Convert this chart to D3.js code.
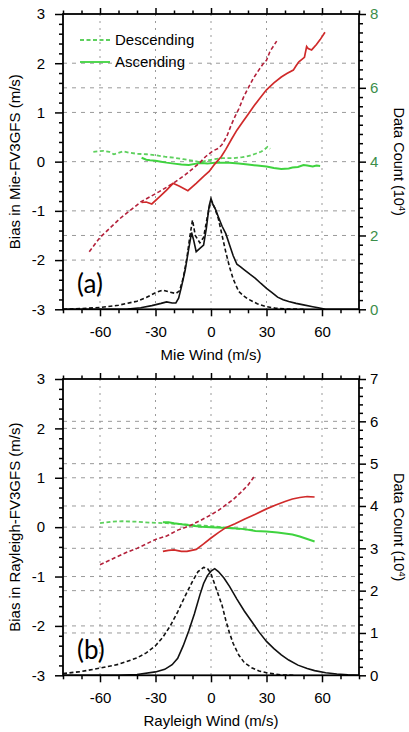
<!DOCTYPE html>
<html lang="en">
<head>
<meta charset="UTF-8">
<title>Bias vs wind speed</title>
<script src="https://d3js.org/d3.v7.min.js"></script>
<style>
    body { margin: 0; background: #fff; font-family: "Liberation Sans", Arial, sans-serif; }
    .tick text { font-size: 15px; font-family: "Liberation Sans", Arial, sans-serif; }
    .axis-title { font-size: 15px; }
</style>
</head>
<body>
<div id="chart"></div>
<script>
// wind (m/s) vs bias (m/s) -- panel (a), Mie
const mieDescBias = [[-65.8,-1.83],[-60,-1.54],[-49,-1.15],[-38,-0.82],[-28,-0.61],[-20,-0.43],[-14,-0.27],[-9.5,-0.13],[-6,-0.02],[-3,0.1],[1,0.22],[4,0.27],[6,0.35],[8.5,0.51],[11,0.75],[13,0.92],[15,1.07],[17.5,1.3],[20,1.49],[23,1.7],[26,1.87],[28,1.98],[30,2.06],[32,2.25],[34,2.36],[35.5,2.45]];
const mieAscBias = [[-37.5,-0.83],[-35,-0.82],[-32,-0.86],[-28,-0.72],[-24,-0.58],[-20.5,-0.44],[-17,-0.5],[-12.5,-0.59],[-8,-0.44],[-4,-0.3],[-1,-0.2],[2,-0.05],[5.5,0.1],[8,0.25],[11,0.45],[14,0.64],[17,0.8],[20,0.96],[23,1.12],[26,1.27],[30,1.46],[34,1.6],[38,1.72],[41,1.79],[44.5,1.86],[46,1.95],[47.5,2.03],[50.5,2.12],[51.7,2.34],[52.5,2.3],[54.4,2.27],[57,2.38],[59,2.48],[61.6,2.63]];
const mieDescGreen = [[-63.6,0.2],[-58,0.22],[-55,0.2],[-52.5,0.15],[-50,0.18],[-47.5,0.21],[-44,0.18],[-40,0.16],[-35,0.15],[-30,0.13],[-25,0.1],[-20,0.08],[-15,0.05],[-10,0.02],[-6,-0.01],[-2,0.02],[2,0.05],[6,0.07],[12,0.07],[17,0.09],[21,0.12],[24,0.16],[27,0.2],[29,0.25],[30.5,0.3],[32,0.26]];
const mieAscGreen = [[-37.5,0.08],[-35,0.04],[-33,0.03],[-30,0.02],[-27,0],[-24,-0.02],[-20,-0.04],[-16,-0.06],[-12,-0.07],[-8,-0.04],[-5,-0.03],[-2,-0.04],[2,-0.02],[6,-0.02],[10,-0.02],[15,-0.04],[20,-0.06],[25,-0.08],[30,-0.1],[34,-0.13],[38,-0.15],[42,-0.14],[44,-0.12],[47,-0.11],[50,-0.07],[52,-0.08],[55,-0.1],[57,-0.08],[59,-0.09]];
// data count (10^4)
const mieDescCount = [[-80,0],[-70,0.02],[-60,0.05],[-50,0.11],[-40,0.22],[-35,0.32],[-30,0.45],[-26,0.52],[-22,0.46],[-19,0.43],[-17,0.5],[-15,0.85],[-13,1.4],[-11.5,1.95],[-10,2.42],[-8.5,2.0],[-6,1.8],[-4,1.95],[-2,2.5],[0,2.95],[2,2.75],[4,2.45],[6,2.0],[8,1.55],[10,1.15],[12,0.82],[15,0.48],[18,0.35],[20,0.28],[25,0.15],[30,0.07],[35,0.03],[40,0.01],[50,0]];
const mieAscCount = [[-80,0],[-60,0],[-45,0.01],[-38,0.04],[-32,0.1],[-27,0.16],[-24,0.2],[-21,0.17],[-19,0.17],[-17.5,0.3],[-16,0.6],[-14,1.05],[-12,1.65],[-10.5,2.08],[-9.5,1.9],[-8,1.56],[-6,1.65],[-4,1.74],[-2.5,2.2],[-1,2.8],[0,3.0],[1,2.85],[2.5,2.7],[4,2.5],[6,2.25],[8,2.05],[10,1.75],[12,1.45],[14,1.22],[16,1.15],[18,1.07],[21,0.95],[24,0.84],[27,0.7],[30,0.57],[33,0.45],[36,0.33],[39,0.26],[42,0.21],[46,0.16],[50,0.12],[55,0.07],[58,0.04],[62,0],[80,0]];

// panel (b), Rayleigh
const rayDescBias = [[-60,-0.76],[-52,-0.62],[-45,-0.5],[-40,-0.43],[-35,-0.34],[-30,-0.25],[-24,-0.18],[-18,-0.06],[-12,0.02],[-6,0.13],[0,0.25],[4,0.34],[8,0.45],[12,0.56],[16,0.7],[20,0.85],[23.5,1.03]];
const rayAscBias = [[-26,-0.49],[-23,-0.47],[-20,-0.46],[-16,-0.49],[-13,-0.49],[-8,-0.45],[-4,-0.34],[0,-0.22],[4,-0.11],[8,-0.01],[13,0.07],[18,0.16],[24,0.26],[30,0.37],[35,0.45],[40,0.52],[44,0.57],[48,0.6],[52,0.62],[56,0.61]];
const rayDescGreen = [[-60,0.08],[-54,0.11],[-48,0.12],[-40,0.11],[-32,0.09],[-24,0.08],[-16,0.06],[-8,0.04],[0,0.02],[8,-0.01],[14,-0.03],[20,-0.05],[23,-0.06]];
const rayAscGreen = [[-26,0.1],[-23,0.1],[-20,0.08],[-16,0.06],[-10,0.03],[-5,0.01],[0,0],[6,-0.01],[12,-0.02],[18,-0.04],[24,-0.08],[30,-0.09],[36,-0.11],[40,-0.13],[44,-0.15],[48,-0.19],[52,-0.24],[56,-0.29]];
const rayDescCount = [[-80,0.04],[-70,0.09],[-60,0.17],[-50,0.26],[-40,0.41],[-35,0.53],[-30,0.7],[-26,0.9],[-22,1.17],[-18,1.5],[-14,1.87],[-10,2.22],[-7,2.45],[-4,2.55],[-2,2.53],[0,2.4],[2,2.15],[4,1.9],[6,1.65],[8,1.3],[10,1.0],[12,0.75],[15,0.48],[18,0.3],[22,0.18],[26,0.1],[31,0.05],[38,0.01],[45,0]];
const rayAscCount = [[-80,0],[-50,0],[-40,0.02],[-30,0.08],[-25,0.14],[-21,0.25],[-18,0.4],[-15,0.7],[-12,1.05],[-9,1.45],[-6,1.9],[-4,2.17],[-2,2.35],[0,2.46],[2,2.52],[4,2.45],[7,2.3],[10,2.1],[14,1.8],[18,1.52],[22,1.27],[26,1.02],[30,0.8],[34,0.63],[38,0.48],[42,0.36],[47,0.24],[52,0.16],[56,0.11],[62,0.06],[68,0.03],[74,0.01],[80,0]];

const windTicks = [-60, -30, 0, 30, 60];
const biasTicks = [-3, -2, -1, 0, 1, 2, 3];
const legendLabels = ["Descending", "Ascending"];

const W = 409, H = 732;
const plotLeft = 63, plotRight = 359;
const red = "#d02a2a", redDash = "#b3203a";
const green = "#3fd33f", greenDash = "#5ed05e";
const gridColor = "#9a9a9a";

const svg = d3.select("#chart").append("svg")
    .attr("width", W).attr("height", H);

function drawPanel(p) {
    const x = d3.scaleLinear().domain([-80, 80]).range([plotLeft, plotRight]);
    const y = d3.scaleLinear().domain([-3, 3]).range([p.bottom, p.top]);
    const c = d3.scaleLinear().domain([0, p.countMax]).range([p.bottom, p.top]);
    const g = svg.append("g");

    // grid lines
    const grid = g.append("g");
    grid.selectAll(".vg").data(windTicks).enter().append("line")
        .attr("x1", d => x(d)).attr("x2", d => x(d))
        .attr("y1", p.top).attr("y2", p.bottom)
        .attr("stroke", gridColor).attr("stroke-width", 1).attr("stroke-dasharray", "2,5");
    grid.selectAll(".hg").data(biasTicks.slice(1, -1)).enter().append("line")
        .attr("x1", plotLeft).attr("x2", plotRight)
        .attr("y1", d => y(d)).attr("y2", d => y(d))
        .attr("stroke", gridColor).attr("stroke-width", 1).attr("stroke-dasharray", "4,5");
    grid.selectAll(".cg").data(p.countGrid).enter().append("line")
        .attr("x1", plotLeft).attr("x2", plotRight)
        .attr("y1", d => c(d)).attr("y2", d => c(d))
        .attr("stroke", gridColor).attr("stroke-width", 1).attr("stroke-dasharray", "4,5");

    const lineB = d3.line().x(d => x(d[0])).y(d => y(d[1]));
    const lineC = d3.line().x(d => x(d[0])).y(d => c(d[1]));

    const series = [
        { data: p.descCount, gen: lineC, color: "#111", dash: "4,2.5", w: 1.6 },
        { data: p.ascCount, gen: lineC, color: "#111", dash: null, w: 1.6 },
        { data: p.descGreen, gen: lineB, color: greenDash, dash: "4,2.5", w: 1.8 },
        { data: p.ascGreen, gen: lineB, color: green, dash: null, w: 2 },
        { data: p.descBias, gen: lineB, color: redDash, dash: "4,2.5", w: 1.6 },
        { data: p.ascBias, gen: lineB, color: red, dash: null, w: 1.7 }
    ];
    series.forEach(s => {
        g.append("path").datum(s.data)
            .attr("d", s.gen)
            .attr("fill", "none")
            .attr("stroke", s.color)
            .attr("stroke-width", s.w)
            .attr("stroke-dasharray", s.dash);
    });

    // axes: majors + minors
    const xMinor = d3.range(-80, 81, 10).filter(v => !windTicks.includes(v));
    const yMinor = d3.range(-3, 3.001, 0.2).map(v => +v.toFixed(1)).filter(v => !biasTicks.includes(v));
    const cMajor = d3.range(0, p.countMax + 0.001, p.countStep);
    const cMinor = d3.range(0, p.countMax + 0.001, p.countMinor).map(v => +v.toFixed(2)).filter(v => !cMajor.includes(v));

    const axes = [
        [d3.axisBottom(x).tickValues(windTicks).tickSize(7).tickPadding(10).tickFormat(d => String(d)), `translate(0,${p.bottom})`],
        [d3.axisBottom(x).tickValues(xMinor).tickSize(4).tickFormat(""), `translate(0,${p.bottom})`],
        [d3.axisTop(x).tickValues(windTicks).tickSize(6).tickFormat(""), `translate(0,${p.top})`],
        [d3.axisTop(x).tickValues(xMinor).tickSize(3.5).tickFormat(""), `translate(0,${p.top})`],
        [d3.axisLeft(y).tickValues(biasTicks).tickSize(8).tickPadding(10).tickFormat(d => String(d)), `translate(${plotLeft},0)`],
        [d3.axisLeft(y).tickValues(yMinor).tickSize(4).tickFormat(""), `translate(${plotLeft},0)`],
        [d3.axisRight(c).tickValues(cMajor).tickSize(7).tickPadding(4).tickFormat(d => String(d)), `translate(${plotRight},0)`],
        [d3.axisRight(c).tickValues(cMinor).tickSize(4).tickFormat(""), `translate(${plotRight},0)`]
    ];
    axes.forEach((a, i) => {
        const ag = g.append("g").attr("transform", a[1]).call(a[0]);
        ag.select(".domain").remove();
        ag.selectAll("line").attr("stroke", "#000").attr("stroke-width", 1.5);
        ag.selectAll("text").attr("fill", i === 6 ? p.countColor : "#000");
    });

    // frame
    g.append("rect")
        .attr("x", plotLeft).attr("y", p.top)
        .attr("width", plotRight - plotLeft).attr("height", p.bottom - p.top)
        .attr("fill", "none").attr("stroke", "#000").attr("stroke-width", 1.8);

    // titles
    g.append("text").attr("class", "axis-title")
        .attr("x", (plotLeft + plotRight) / 2).attr("y", p.bottom + 51)
        .attr("text-anchor", "middle").text(p.xTitle);
    g.append("text").attr("class", "axis-title")
        .attr("transform", `translate(20,${(p.top + p.bottom) / 2}) rotate(-90)`)
        .attr("text-anchor", "middle").text(p.yTitle);
    const rt = g.append("text").attr("class", "axis-title")
        .attr("transform", `translate(394,${(p.top + p.bottom) / 2}) rotate(90)`)
        .attr("text-anchor", "middle")
        .style("font-size", "14.5px");
    rt.append("tspan").text("Data Count (10");
    rt.append("tspan").attr("font-size", "9px").attr("dy", "-4.5").text("4");
    rt.append("tspan").attr("dy", "4.5").text(")");

    g.append("text")
        .attr("x", 77).attr("y", p.bottom - 16)
        .attr("font-family", "Lato, 'Open Sans', sans-serif")
        .attr("font-size", "26px")
        .text(p.tag);
    return { x, y };
}

drawPanel({
    top: 14, bottom: 309.3, countMax: 8, countStep: 2, countMinor: 0.25,
    countGrid: [2, 6], countColor: "#3b8e4a",
    descBias: mieDescBias, ascBias: mieAscBias,
    descGreen: mieDescGreen, ascGreen: mieAscGreen,
    descCount: mieDescCount, ascCount: mieAscCount,
    xTitle: "Mie Wind (m/s)", yTitle: "Bias in Mie-FV3GFS (m/s)", tag: "(a)"
});

drawPanel({
    top: 379, bottom: 675.3, countMax: 7, countStep: 1, countMinor: 0.2,
    countGrid: [1, 2, 3, 4, 5, 6], countColor: "#000",
    descBias: rayDescBias, ascBias: rayAscBias,
    descGreen: rayDescGreen, ascGreen: rayAscGreen,
    descCount: rayDescCount, ascCount: rayAscCount,
    xTitle: "Rayleigh Wind (m/s)", yTitle: "Bias in Rayleigh-FV3GFS (m/s)", tag: "(b)"
});

// legend in panel (a)
const legend = svg.append("g");
legendLabels.forEach((name, i) => {
    const ly = 40 + i * 22;
    legend.append("line")
        .attr("x1", 80).attr("x2", 110).attr("y1", ly).attr("y2", ly)
        .attr("stroke", i === 0 ? greenDash : green).attr("stroke-width", 1.8)
        .attr("stroke-dasharray", i === 0 ? "4,2.5" : null);
    legend.append("text")
        .attr("x", 115).attr("y", ly + 5)
        .attr("font-size", "15px")
        .text(name);
});
</script>
</body>
</html>
